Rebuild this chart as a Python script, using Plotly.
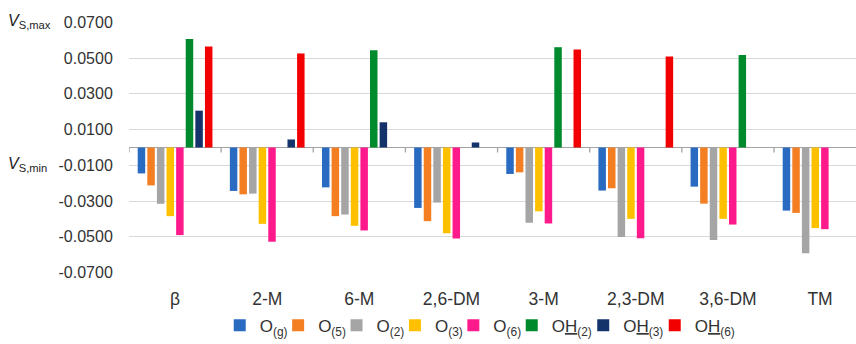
import plotly.graph_objects as go

categories = ["β", "2-M", "6-M", "2,6-DM", "3-M", "2,3-DM", "3,6-DM", "TM"]

series_names = [
    "O<sub>(g)</sub>", "O<sub>(5)</sub>", "O<sub>(2)</sub>", "O<sub>(3)</sub>", "O<sub>(6)</sub>",
    "O<u>H</u><sub>(2)</sub>", "O<u>H</u><sub>(3)</sub>", "O<u>H</u><sub>(6)</sub>",
]

O_g = [-0.0145, -0.0243, -0.0223, -0.0338, -0.0148, -0.0241, -0.0219, -0.0353]
O_5 = [-0.0212, -0.0262, -0.0384, -0.0412, -0.0139, -0.0228, -0.0314, -0.0366]
O_2 = [-0.0315, -0.0258, -0.0375, -0.0308, -0.0421, -0.0501, -0.0518, -0.0592]
O_3 = [-0.0384, -0.0427, -0.0438, -0.0479, -0.0357, -0.0399, -0.0399, -0.0451]
O_6 = [-0.0490, -0.0527, -0.0464, -0.0509, -0.0425, -0.0507, -0.0431, -0.0457]
OH_2 = [0.0607, None, 0.0544, None, 0.0561, None, 0.0518, None]
OH_3 = [0.0206, 0.0045, 0.0141, 0.0028, None, None, None, None]
OH_6 = [0.0565, 0.0526, None, None, 0.0548, 0.0509, None, None]

series_values = [O_g, O_5, O_2, O_3, O_6, OH_2, OH_3, OH_6]
colors = ["#2A6BC2", "#F47F22", "#A5A5A5", "#FFC000", "#FF1A8C", "#008A2E", "#14336B", "#F20000"]
legend_widths = [13.4, 13.4, 13.4, 13.4, 13.4, 26.5, 26.5, None]

ytick_vals = [-0.07, -0.05, -0.03, -0.01, 0.01, 0.03, 0.05, 0.07]
ytick_text = ["-0.0700", "-0.0500", "-0.0300", "-0.0100", "0.0100", "0.0300", "0.0500", "0.0700"]

FONT = "Liberation Sans, Arial, sans-serif"
AXIS_GREY = "#a3a3a3"
GRID_GREY = "#d9d9d9"

fig = go.Figure()
for name, vals, col, lw in zip(series_names, series_values, colors, legend_widths):
    bar = go.Bar(
        x=list(range(len(categories))), y=vals, name=name,
        marker=dict(color=col, line=dict(width=0)),
    )
    if lw is not None:
        bar.legendwidth = lw
    fig.add_trace(bar)

n = len(categories)
# category boundary tick marks hanging below the zero line
tick_shapes = [
    dict(type="line", xref="x", yref="y", ysizemode="pixel", yanchor=0,
         x0=i - 0.5, x1=i - 0.5, y0=0, y1=-5,
         line=dict(color=AXIS_GREY, width=1.3), layer="above")
    for i in range(n + 1)
]

fig.update_layout(
    template="none",
    width=856, height=344,
    margin=dict(l=129.3, r=0, t=22.3, b=71, pad=0),
    paper_bgcolor="white", plot_bgcolor="rgba(0,0,0,0)",
    barmode="group", bargap=0.166, bargroupgap=0.22,
    font=dict(family=FONT, size=16, color="#333333"),
    xaxis=dict(
        range=[-0.5, 7.39], tickmode="array",
        tickvals=list(range(n)), ticktext=categories,
        showgrid=False, zeroline=False, showline=False,
        ticks="outside", ticklen=10, tickcolor="rgba(0,0,0,0)",
        tickfont=dict(size=17.5, color="#333333"),
        automargin=False,
    ),
    yaxis=dict(
        range=[-0.0702, 0.0702], tickmode="array",
        tickvals=ytick_vals, ticktext=ytick_text,
        showgrid=True, gridcolor=GRID_GREY, gridwidth=1,
        zeroline=True, zerolinecolor=AXIS_GREY, zerolinewidth=1.4,
        showline=False,
        ticks="outside", ticklen=12, tickcolor="rgba(0,0,0,0)",
        tickfont=dict(size=16, color="#333333"),
        automargin=False,
    ),
    legend=dict(
        orientation="h", x=(220 - 129.3) / 726.7, xanchor="left", y=-0.282, yanchor="bottom",
        font=dict(size=17, color="#333333"), itemwidth=30,
        traceorder="normal", bgcolor="rgba(0,0,0,0)", borderwidth=0,
    ),
    shapes=tick_shapes,
    annotations=[
        dict(text="<i>V</i><sub>S,max</sub>", xref="paper", yref="y", x=0, y=0.07,
             xanchor="left", yanchor="middle", xshift=-123, yshift=1, showarrow=False,
             font=dict(size=16, color="#222222")),
        dict(text="<i>V</i><sub>S,min</sub>", xref="paper", yref="y", x=0, y=-0.01,
             xanchor="left", yanchor="middle", xshift=-123, yshift=1, showarrow=False,
             font=dict(size=16, color="#222222")),
    ],
)

fig.write_html("out.html", config={"displayModeBar": False},
               post_script="document.body.style.margin='0px';")
